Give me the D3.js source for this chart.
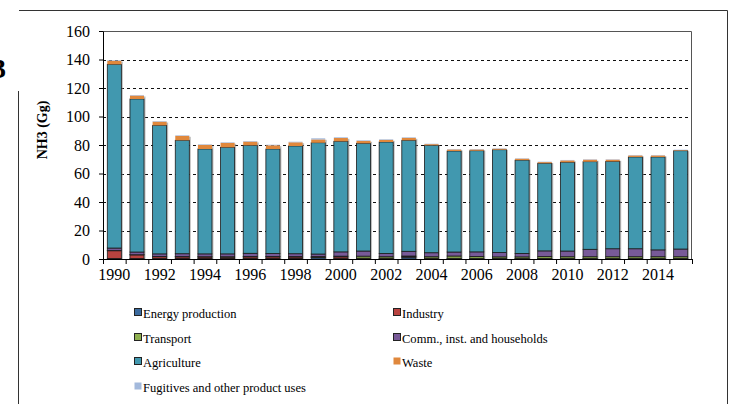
<!DOCTYPE html>
<html>
<head>
<meta charset="utf-8">
<script src="https://cdn.jsdelivr.net/npm/d3@7"></script>
<style>
  body { margin: 0; background: #fff; }
  svg, svg text { font-family: "Liberation Serif", "Times New Roman", serif; }
</style>
</head>
<body>
<div id="viz"></div>
<script>
// NH3 emissions by sector (Gg), 1990-2015
let years = d3.range(1990, 2016);
let energy      = [0.3, 0.3, 0.3, 0.3, 0.3, 0.3, 0.3, 0.3, 0.4, 1.0, 0.3, 0.3, 0.3, 1.3, 0.3, 0.3, 0.3, 0.3, 0.3, 0.3, 0.3, 0.3, 0.3, 0.3, 0.3, 0.3];
let industry    = [5.5, 2.6, 1.3, 1.2, 1.1, 1.0, 1.2, 1.2, 1.0, 0.3, 1.2, 0.3, 0.3, 0.3, 0.3, 0.2, 0.2, 0.2, 0.2, 0.2, 0.2, 0.2, 0.2, 0.2, 0.2, 0.2];
let transport   = [0.1, 0.1, 0.2, 0.2, 0.2, 0.3, 0.3, 0.3, 0.3, 0.4, 0.5, 1.4, 1.0, 0.5, 1.0, 1.6, 1.3, 1.0, 1.0, 1.2, 1.1, 1.1, 1.1, 1.1, 1.1, 1.1];
let households  = [1.8, 1.9, 1.8, 2.0, 2.0, 2.0, 2.2, 2.0, 2.0, 1.8, 3.0, 3.6, 2.2, 3.3, 2.8, 2.8, 3.2, 3.0, 2.4, 4.0, 4.0, 5.2, 5.6, 5.6, 4.8, 5.4];
let agriculture = [128.9, 107.4, 90.2, 79.6, 73.6, 74.8, 75.8, 73.4, 75.6, 78.1, 77.6, 75.6, 78.3, 77.9, 75.4, 70.9, 71.0, 72.2, 65.5, 61.5, 62.3, 61.5, 61.3, 64.4, 65.2, 69.0];
let waste       = [2.5, 2.4, 2.6, 3.1, 2.9, 3.1, 2.6, 2.6, 2.6, 2.3, 2.3, 1.7, 1.5, 1.7, 0.8, 1.1, 0.9, 0.7, 1.0, 0.8, 1.3, 1.4, 1.2, 1.1, 1.1, 0.4];
let fugitives   = [0.4, 0.4, 0.4, 0.4, 0.4, 0.4, 0.4, 0.4, 0.4, 0.8, 0.5, 0.4, 0.4, 0.4, 0.3, 0.3, 0.3, 0.3, 0.3, 0.3, 0.3, 0.3, 0.3, 0.3, 0.3, 0.3];

let seriesNames = ['Energy production', 'Industry', 'Transport', 'Comm., inst. and households',
                   'Agriculture', 'Waste', 'Fugitives and other product uses'];
let seriesValues = [energy, industry, transport, households, agriculture, waste, fugitives];
let seriesColors = ['#3b6a9e', '#b8433f', '#8fb04f', '#785a98', '#4198af', '#e0883c', '#a3b9dc'];
let outlined = [true, true, true, true, true, false, false];
let yTicks = [0, 20, 40, 60, 80, 100, 120, 140, 160];
let labelYears = years.filter(y => y % 2 === 0);

let W = 736, H = 404;
let margin = { top: 31, right: 44, bottom: 145, left: 103 };
let width = W - margin.left - margin.right,
    height = H - margin.top - margin.bottom;
let serif = '"Liberation Serif", "Times New Roman", serif';

let rows = years.map((y, i) => {
    let r = { year: y };
    seriesNames.forEach((n, k) => r[n] = seriesValues[k][i]);
    return r;
});
let stacked = d3.stack().keys(seriesNames)(rows);

let svg = d3.select('#viz').append('svg')
    .attr('width', W)
    .attr('height', H);

// outer frame
let frame = d3.path();
frame.moveTo(18.5, 404); frame.lineTo(18.5, 91);
frame.moveTo(19, 10.5); frame.lineTo(727.5, 10.5); frame.lineTo(727.5, 404);
svg.append('path').attr('d', frame.toString())
    .attr('fill', 'none').attr('stroke', '#333').attr('stroke-width', 1);

svg.append('text')
    .attr('x', -8).attr('y', 78)
    .style('font-weight', 'bold').style('font-size', '28px')
    .text('3');

let xScale = d3.scaleBand()
    .domain(years)
    .range([0, width])
    .paddingInner(0.38)
    .paddingOuter(0.19);
let yScale = d3.scaleLinear()
    .domain([0, 160])
    .range([height, 0]);

let chart = svg.append('g')
    .attr('transform', 'translate(' + margin.left + ',' + margin.top + ')');

// gridlines
chart.append('g').selectAll('line')
    .data(yTicks.filter(t => t > 0 && t < 160))
    .enter().append('line')
    .attr('x1', 0).attr('x2', width)
    .attr('y1', d => Math.round(yScale(d)) + 0.5)
    .attr('y2', d => Math.round(yScale(d)) + 0.5)
    .attr('stroke', '#111')
    .attr('stroke-dasharray', '3,3');

// plot border (top + right)
chart.append('path')
    .attr('d', 'M0,0.5H' + (width - 0.5) + 'V' + height)
    .attr('fill', 'none').attr('stroke', '#555');

// bar shadows
chart.append('g').selectAll('rect')
    .data(rows)
    .enter().append('rect')
    .attr('x', d => xScale(d.year) + 1.5)
    .attr('y', (d, i) => yScale(stacked[stacked.length - 1][i][1]) + 1.5)
    .attr('width', xScale.bandwidth())
    .attr('height', (d, i) => height - yScale(stacked[stacked.length - 1][i][1]) - 1.5)
    .attr('fill', '#888')
    .attr('opacity', 0.55);

// stacked bars
let layers = chart.append('g').selectAll('g')
    .data(stacked)
    .enter().append('g')
    .attr('fill', (d, k) => seriesColors[k]);

layers.selectAll('rect')
    .data((d, k) => d.map(p => ({ p: p, k: k })))
    .enter().append('rect')
    .attr('x', d => xScale(d.p.data.year))
    .attr('y', d => yScale(d.p[1]))
    .attr('width', xScale.bandwidth())
    .attr('height', d => yScale(d.p[0]) - yScale(d.p[1]))
    .attr('stroke', d => outlined[d.k] ? '#1b1b1b' : 'none')
    .attr('stroke-width', 0.8);

// y axis
let yAxis = chart.append('g')
    .call(d3.axisLeft(yScale).tickValues(yTicks).tickSize(4).tickPadding(9).tickSizeOuter(0))
    .attr('font-family', serif);
yAxis.selectAll('text').style('font-size', '16px').attr('fill', '#000');
yAxis.selectAll('line, path').attr('stroke', '#000');

// x axis: tick marks at band boundaries, labels every other year
let edgeScale = d3.scaleLinear().domain([0, years.length]).range([0, width]);
let xTicks = chart.append('g')
    .attr('transform', 'translate(0,' + height + ')')
    .call(d3.axisBottom(edgeScale).ticks(years.length).tickFormat('').tickSize(5).tickSizeOuter(0));
xTicks.selectAll('line, path').attr('stroke', '#000');

let xLabels = chart.append('g')
    .attr('transform', 'translate(0,' + height + ')')
    .call(d3.axisBottom(xScale).tickValues(labelYears).tickSize(0).tickPadding(10))
    .attr('font-family', serif);
xLabels.select('.domain').remove();
xLabels.selectAll('text').style('font-size', '16px').attr('fill', '#000');

// y label
svg.append('text')
    .attr('transform', 'translate(47,130) rotate(-90)')
    .attr('text-anchor', 'middle')
    .style('font-weight', 'bold').style('font-size', '14px')
    .text('NH3 (Gg)');

// legend
let legendPos = [[134, 313], [393, 313], [134, 338], [393, 338], [134, 362], [393, 362], [134, 387]];
let legend = svg.append('g').selectAll('g')
    .data(seriesNames)
    .enter().append('g')
    .attr('transform', (d, k) => 'translate(' + legendPos[k][0] + ',' + legendPos[k][1] + ')');
legend.append('rect')
    .attr('x', 0.5).attr('y', -4.5)
    .attr('width', 7).attr('height', 7)
    .attr('fill', (d, k) => seriesColors[k])
    .attr('stroke', (d, k) => outlined[k] ? '#222' : 'none');
legend.append('text')
    .attr('transform', 'translate(9,4.5) scale(0.93,1)')
    .style('font-size', '13.5px')
    .text(d => d);
</script>
</body>
</html>
